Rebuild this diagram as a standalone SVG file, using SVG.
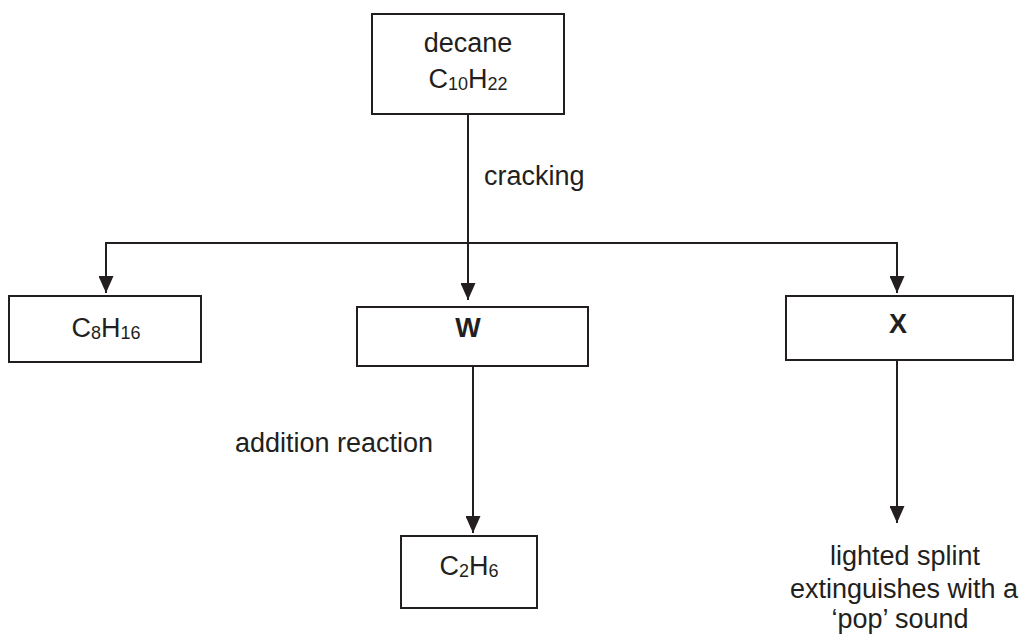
<svg xmlns="http://www.w3.org/2000/svg" width="1031" height="637" viewBox="0 0 1031 637">
<style>
.box{fill:#fff;stroke:#231f20;stroke-width:2}
.ln{fill:none;stroke:#231f20;stroke-width:2}
text{font-family:"Liberation Sans",Arial,sans-serif;font-size:27px;fill:#231f20}
.c{text-anchor:middle}
.b{font-weight:bold}
.s{font-size:18px}
</style>
<defs>
<marker id="a" viewBox="0 0 17 15" refX="17" refY="7.5" markerWidth="17" markerHeight="15" markerUnits="userSpaceOnUse" orient="auto">
<path d="M0,0 L17,7.5 L0,15 Z" fill="#231f20"/>
</marker>
</defs>
<rect width="1031" height="637" fill="#fff"/>
<g id="connectors">
<line class="ln" x1="468" y1="114" x2="468" y2="300" marker-end="url(#a)"/>
<line class="ln" x1="106" y1="243" x2="897" y2="243"/>
<line class="ln" x1="106" y1="242" x2="106" y2="293" marker-end="url(#a)"/>
<line class="ln" x1="897" y1="242" x2="897" y2="293" marker-end="url(#a)"/>
<line class="ln" x1="473" y1="366" x2="473" y2="533" marker-end="url(#a)"/>
<line class="ln" x1="897" y1="360" x2="897" y2="523" marker-end="url(#a)"/>
<text x="484" y="185">cracking</text>
<text x="235" y="452">addition reaction</text>
</g>
<g id="decane">
<rect class="box" x="372" y="14" width="192" height="100"/>
<text class="c" x="468" y="52">decane</text>
<text class="c" x="468" y="88">C<tspan class="s" dy="2">10</tspan><tspan dy="-2">H</tspan><tspan class="s" dy="2">22</tspan></text>
</g>
<g id="c8h16">
<rect class="box" x="9" y="296" width="192" height="66"/>
<text class="c" x="106" y="337">C<tspan class="s" dy="2">8</tspan><tspan dy="-2">H</tspan><tspan class="s" dy="2">16</tspan></text>
</g>
<g id="W">
<rect class="box" x="357" y="307" width="231" height="59"/>
<text class="c b" x="468" y="337">W</text>
</g>
<g id="X">
<rect class="box" x="786" y="296" width="227" height="64"/>
<text class="c b" x="898" y="333">X</text>
</g>
<g id="c2h6">
<rect class="box" x="401" y="536" width="136" height="72"/>
<text class="c" x="469" y="575">C<tspan class="s" dy="2">2</tspan><tspan dy="-2">H</tspan><tspan class="s" dy="2">6</tspan></text>
</g>
<g id="result">
<text class="c" x="905" y="565">lighted splint</text>
<text class="c" x="904" y="598">extinguishes with a</text>
<text class="c" x="900" y="628">‘pop’ sound</text>
</g>
</svg>
